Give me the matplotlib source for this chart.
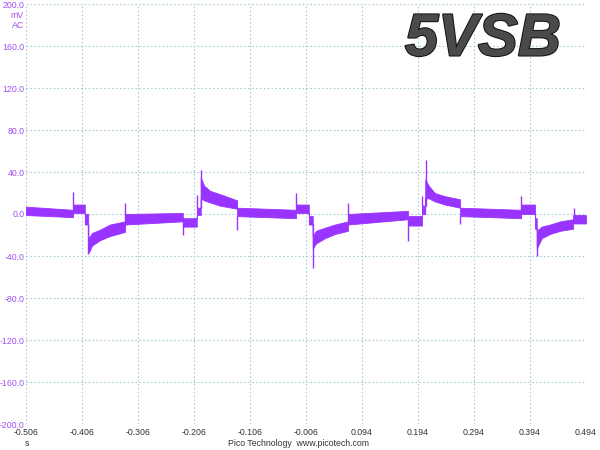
import matplotlib.pyplot as plt
import matplotlib.patheffects as pe

plt.rcParams['font.family'] = ['Liberation Sans', 'DejaVu Sans']

# noise envelope of the trace (time in s, mV)
t_env = [-0.506, -0.422, -0.422, -0.401, -0.401, -0.395, -0.395, -0.393, -0.388, -0.374,
         -0.356, -0.329, -0.329, -0.226, -0.226, -0.201, -0.201, -0.194, -0.194, -0.188,
         -0.177, -0.160, -0.129, -0.129, -0.024, -0.024, -0.001, -0.001, 0.006, 0.006,
         0.012, 0.028, 0.046, 0.069, 0.069, 0.176, 0.176, 0.201, 0.201, 0.207,
         0.207, 0.213, 0.224, 0.242, 0.269, 0.269, 0.378, 0.378, 0.403, 0.403,
         0.406, 0.406, 0.415, 0.430, 0.448, 0.471, 0.471, 0.494]
env_hi = [7, 4, 9, 9, 0, 0, -23, -22, -18, -15,
          -10, -7, 0, 1, -4, -4, 6, 6, 35, 27,
          22, 19, 13, 6, 4, 9, 9, -2, -2, -21,
          -16, -13, -10, -7, 0, 3, -2, -2, 8, 8,
          33, 27, 20, 17, 14, 6, 4, 9, 9, -4,
          -4, -16, -12, -10, -7, -5, -1, -1]
env_lo = [-1, -3, 1, 1, -10, -10, -37, -36, -30, -25,
          -21, -17, -10, -7, -12, -12, -1, -1, 15, 13,
          11, 8, 5, -2, -4, 1, 1, -10, -10, -33,
          -28, -23, -19, -16, -10, -5, -11, -11, 0, 0,
          15, 15, 12, 9, 6, -2, -4, 0, 0, -14,
          -14, -33, -23, -19, -16, -14, -9, -9]

# narrow glitches: time, start level, peak level
spike_t = [-0.422, -0.396, -0.329, -0.226, -0.201, -0.1935, -0.129, -0.024,
           0.0065, 0.069, 0.176, 0.202, 0.208, 0.269, 0.378, 0.4065, 0.472]
spike_from = [4, -10, -10, -4, 6, 6, -2, 4, -10, -10, -5, 8, 8, -2, 4, -14, -9]
spike_to = [21, -38, 10, -20, 18, 42, -15, 20, -51, 10, -26, 17, 51, -10, 17, -40, 6]

x_ticks = [-0.506, -0.406, -0.306, -0.206, -0.106, -0.006, 0.094, 0.194, 0.294, 0.394, 0.494]
y_ticks = [-200, -160, -120, -80, -40, 0, 40, 80, 120, 160, 200]

trace = '#9933ff'
label_purple = '#a050f0'
fs = 6.3
fig = plt.figure(figsize=(6, 4.5), dpi=100)
ax = fig.add_axes([26 / 600, 1 - 424 / 450, 560 / 600, 420 / 450])
ax.set_axisbelow(True)

ax.fill_between(t_env, env_lo, env_hi, color=trace, linewidth=0.6, edgecolor=trace)
ax.vlines(spike_t, spike_from, spike_to, color=trace, linewidth=1.0)

ax.set_xlim(-0.506, 0.494)
ax.set_ylim(-200, 200)
ax.set_xticks(x_ticks)
ax.set_yticks(y_ticks)
ax.set_xticklabels(['%.3f' % v for v in x_ticks])
ax.set_yticklabels(['%.1f' % v for v in y_ticks])
ax.tick_params(length=0, labelsize=fs, pad=3)
ax.tick_params(axis='y', colors=label_purple, pad=1)
ax.tick_params(axis='x', colors='#333333')

ax.grid(True, color='#a6cbd6', linestyle=(0, (1.5, 2)), linewidth=0.8)
for s in ax.spines.values():
    s.set_visible(False)

fig.text(24 / 600, 1 - 15.5 / 450, 'mV', color=label_purple, fontsize=fs, ha='right', va='center')
fig.text(24 / 600, 1 - 25 / 450, 'AC', color=label_purple, fontsize=fs, ha='right', va='center')
fig.text(27 / 600, 1 - 443 / 450, 's', color='#333333', fontsize=fs, ha='center', va='center')
fig.text(298 / 600, 1 - 443 / 450, 'Pico Technology  www.picotech.com', color='#333333',
         fontsize=fs, ha='center', va='center')

fig.text(483 / 600, 1 - 40 / 450, '5VSB', fontsize=43, fontweight='bold', fontstyle='italic',
         color='#4a4a4a', ha='center', va='center',
         path_effects=[pe.withStroke(linewidth=1.5, foreground='#151515')])

fig.savefig('out.png', dpi=100)
